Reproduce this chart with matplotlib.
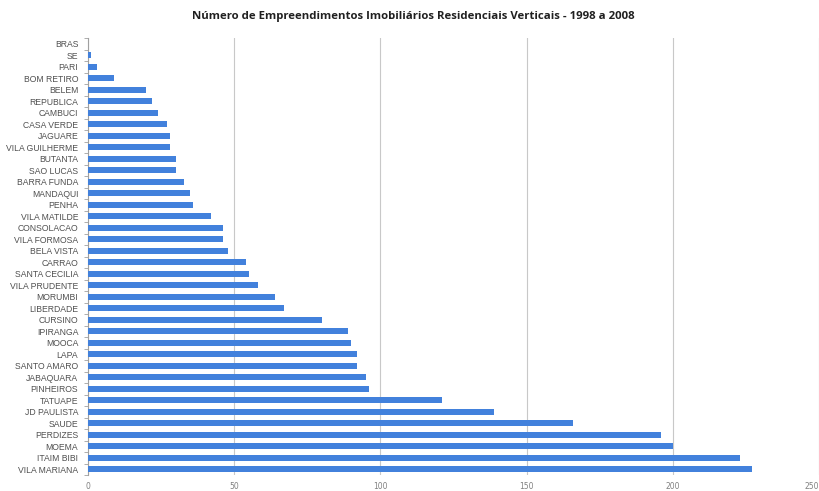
import numpy as np
import matplotlib.pyplot as plt
from matplotlib.ticker import FixedLocator

# distritos e numero de empreendimentos (1998-2008)
distritos = ['BRAS', 'SE', 'PARI', 'BOM RETIRO', 'BELEM', 'REPUBLICA', 'CAMBUCI',
             'CASA VERDE', 'JAGUARE', 'VILA GUILHERME', 'BUTANTA', 'SAO LUCAS',
             'BARRA FUNDA', 'MANDAQUI', 'PENHA', 'VILA MATILDE', 'CONSOLACAO',
             'VILA FORMOSA', 'BELA VISTA', 'CARRAO', 'SANTA CECILIA', 'VILA PRUDENTE',
             'MORUMBI', 'LIBERDADE', 'CURSINO', 'IPIRANGA', 'MOOCA', 'LAPA',
             'SANTO AMARO', 'JABAQUARA', 'PINHEIROS', 'TATUAPE', 'JD PAULISTA',
             'SAUDE', 'PERDIZES', 'MOEMA', 'ITAIM BIBI', 'VILA MARIANA']
empreendimentos = [0, 1, 3, 9, 20, 22, 24,
                   27, 28, 28, 30, 30,
                   33, 35, 36, 42, 46,
                   46, 48, 54, 55, 58,
                   64, 67, 80, 89, 90, 92,
                   92, 95, 96, 121, 139,
                   166, 196, 200, 223, 227]
xticks = [0, 50, 100, 150, 200, 250]

fig = plt.figure(figsize=(8.19, 4.91), dpi=100)
ax = fig.add_axes([88 / 819, 1 - 475 / 491, (819 - 88) / 819, (475 - 38) / 491])

y = np.arange(len(distritos))
ax.barh(y, empreendimentos, height=0.48, color='#4281dc', zorder=3)

ax.set_xlim(0, 250)
ax.set_ylim(len(distritos) - 0.5, -0.5)
ax.set_xticks(xticks)
ax.set_xticklabels([str(t) for t in xticks], fontsize=5.5, color='#808080')
ax.tick_params(axis='x', length=0, pad=5)
# o ultimo rotulo fica na borda direita, alinhar pela direita
ax.get_xticklabels()[-1].set_ha('right')
ax.grid(axis='x', color='#c8c8c8', linewidth=0.8, zorder=0)

ax.set_yticks(y)
ax.set_yticklabels(distritos, fontsize=6.2, color='#505050', family='Liberation Sans')
ax.tick_params(axis='y', which='major', length=0, pad=7)
ax.yaxis.set_minor_locator(FixedLocator(np.arange(-0.5, len(distritos), 1)))
ax.tick_params(axis='y', which='minor', length=3, color='#a0a0a0', width=0.6)

for s in ['top', 'right', 'bottom']:
    ax.spines[s].set_visible(False)
ax.spines['left'].set_color('#a0a0a0')
ax.spines['left'].set_linewidth(0.8)

fig.text(413 / 819, 1 - 17 / 491,
         'Número de Empreendimentos Imobiliários Residenciais Verticais - 1998 a 2008',
         ha='center', va='center', fontsize=8.2, fontweight='bold', color='#202020',
         family='Open Sans')

fig.savefig('out.png', dpi=100)
